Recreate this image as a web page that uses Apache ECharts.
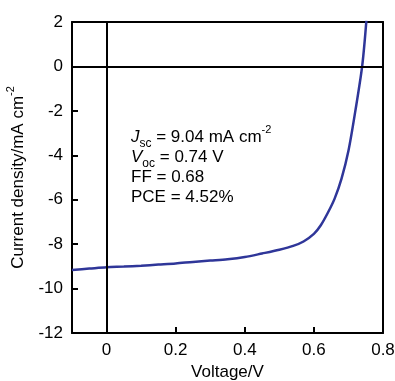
<!DOCTYPE html>
<html>
<head>
<meta charset="utf-8">
<script src="https://cdn.jsdelivr.net/npm/echarts@6/dist/echarts.min.js"></script>
<style>html,body{margin:0;padding:0;background:#fff}#c{width:395px;height:381px}</style>
</head>
<body>
<div id="c"></div>
<script>
const voltage = [-0.1, -0.05, 0, 0.05, 0.1, 0.15, 0.2, 0.25, 0.3, 0.35, 0.4, 0.45, 0.5, 0.54, 0.57, 0.6, 0.62, 0.64, 0.66, 0.68, 0.70, 0.72, 0.74, 0.752];
const current = [-9.16, -9.10, -9.04, -9.01, -8.97, -8.92, -8.87, -8.80, -8.74, -8.68, -8.58, -8.42, -8.25, -8.08, -7.88, -7.54, -7.15, -6.60, -5.95, -5.05, -3.80, -2.00, 0.05, 2.07];
const xTicks = [0, 0.2, 0.4, 0.6, 0.8];
const yTicks = [-12, -10, -8, -6, -4, -2, 0, 2];
const xRange = [-0.1, 0.8];
const yRange = [-12, 2];
const annotation = [
  '{i|J}{sub|sc}{n| = 9.04 mA cm}{sup|-2}',
  '{i|V}{sub|oc}{n| = 0.74 V}',
  '{n|FF = 0.68}',
  '{n|PCE = 4.52%}'
];

const FONT = 'Liberation Sans, Arial, sans-serif';
const chart = echarts.init(document.getElementById('c'), null, {renderer: 'canvas'});
const richBase = {
  n: {fontSize: 17, fontFamily: FONT, color: '#000', lineHeight: 20},
  i: {fontSize: 17, fontFamily: FONT, color: '#000', fontStyle: 'italic', lineHeight: 20},
  sub: {fontSize: 12, fontFamily: FONT, color: '#000', verticalAlign: 'bottom', lineHeight: 20, padding: [0,0,-3,0]},
  sup: {fontSize: 11, fontFamily: FONT, color: '#000', verticalAlign: 'top', lineHeight: 20, padding: [-3,0,0,0]}
};
const frameAxisLine = {show: true, onZero: false, lineStyle: {color: '#000', width: 2}};
// tick length expressed in data units along each axis (about 6 px)
const xTickLen = (yRange[1] - yRange[0]) * 6 / 311;
const yTickLen = (xRange[1] - xRange[0]) * 6 / 311;
const tickSegments = []
  .concat(xTicks.map(v => [{coord: [v, yRange[0]]}, {coord: [v, yRange[0] + xTickLen]}]))
  .concat(yTicks.map(v => [{coord: [xRange[0], v]}, {coord: [xRange[0] + yTickLen, v]}]));

chart.setOption({
  animation: false,
  grid: {left: 72, top: 22, right: 12, bottom: 48, show: false, containLabel: false, outerBoundsMode: 'none'},
  xAxis: [{
    type: 'value', min: xRange[0], max: xRange[1], position: 'bottom',
    name: 'Voltage/V', nameLocation: 'middle', nameGap: 29,
    nameTextStyle: {fontSize: 17, fontFamily: FONT, color: '#000'},
    axisLine: frameAxisLine,
    axisTick: {show: true, inside: true, length: 6, customValues: xTicks, lineStyle: {color: '#000', width: 2}},
    axisLabel: {show: true, customValues: xTicks, fontSize: 17, fontFamily: FONT, color: '#000', margin: 9,
      formatter: v => (Math.abs(v) < 1e-9 ? '0' : String(Math.round(v * 10) / 10))},
    splitLine: {show: false}
  }, {
    type: 'value', min: xRange[0], max: xRange[1], position: 'top',
    axisLine: frameAxisLine, axisTick: {show: false}, axisLabel: {show: false}, splitLine: {show: false}
  }],
  yAxis: [{
    type: 'value', min: yRange[0], max: yRange[1], interval: 2, position: 'left',
    name: '{n|Current density/mA cm}{sup|-2}', nameLocation: 'middle', nameGap: 44,
    nameTextStyle: {fontSize: 17, fontFamily: FONT, color: '#000', rich: richBase},
    axisLine: frameAxisLine,
    axisTick: {show: true, inside: true, length: 6, customValues: yTicks, lineStyle: {color: '#000', width: 2}},
    axisLabel: {show: true, customValues: yTicks, fontSize: 17, fontFamily: FONT, color: '#000', margin: 9},
    splitLine: {show: false}
  }, {
    type: 'value', min: yRange[0], max: yRange[1], interval: 2, position: 'right',
    axisLine: frameAxisLine, axisTick: {show: false}, axisLabel: {show: false}, splitLine: {show: false}
  }],
  graphic: [{
    type: 'text', left: 131, top: 124, z: 10,
    style: {text: annotation.join('\n'), rich: richBase, fill: '#000'}
  }],
  series: [{
    type: 'line',
    data: voltage.map((v, k) => [v, current[k]]),
    showSymbol: false, smooth: 0.3,
    lineStyle: {color: '#2f3699', width: 2.5},
    markLine: {
      silent: true, symbol: 'none', animation: false,
      label: {show: false},
      lineStyle: {color: '#000', type: 'solid', width: 2},
      data: [{yAxis: 0}, {xAxis: 0}].concat(tickSegments)
    },
    z: 3
  }]
});
</script>
</body>
</html>
